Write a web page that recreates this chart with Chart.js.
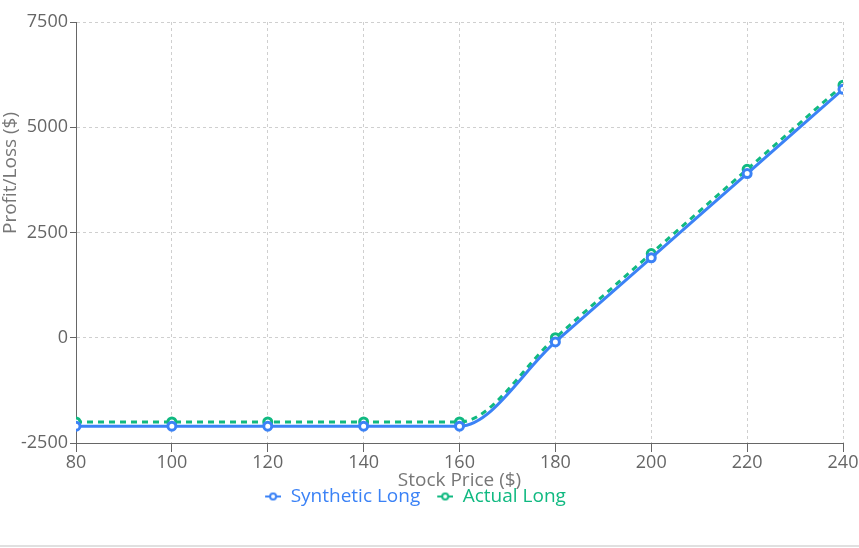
<!DOCTYPE html>
<html>
<head>
<meta charset="utf-8">
<script src="https://cdn.jsdelivr.net/npm/chart.js@4.4.0/dist/chart.umd.min.js"></script>
<style>
  html, body { margin: 0; padding: 0; background: #fff; }
  #wrap { width: 859px; height: 545px; border-bottom: 2px solid #e0e0e0; position: relative; }
</style>
</head>
<body>
<div id="wrap"><canvas id="chart"></canvas></div>
<script>
// ── Data ────────────────────────────────────────────────────────────────
const stockPrices   = [80, 100, 120, 140, 160, 180, 200, 220, 240];
const syntheticLong = [-2100, -2100, -2100, -2100, -2100, -100, 1900, 3900, 5900];
const actualLong    = [-2000, -2000, -2000, -2000, -2000, 0, 2000, 4000, 6000];

const BLUE  = '#3b82f6';
const GREEN = '#10b981';
const FONT  = "'Open Sans', 'Noto Sans', sans-serif";
const ICON_W = 30;

/** Legend icon: short line with an open circle, left part kept blank as spacing */
function legendIcon(color) {
  const c = document.createElement('canvas');
  c.width = ICON_W; c.height = 12;
  const ctx = c.getContext('2d');
  const x0 = ICON_W - 16;
  ctx.strokeStyle = color;
  ctx.lineWidth = 2;
  ctx.beginPath(); ctx.moveTo(x0, 6); ctx.lineTo(x0 + 16, 6); ctx.stroke();
  ctx.fillStyle = '#fff';
  ctx.beginPath(); ctx.arc(x0 + 8, 6, 3, 0, Math.PI * 2); ctx.fill(); ctx.stroke();
  return c;
}

// y title drawn at fixed spot (left side, a bit above plot centre)
const yTitlePlugin = {
  id: 'yTitle',
  afterLayout(chart) {
    // nudge the legend a little left of canvas centre
    chart.legend.left -= 13;
    chart.legend.right -= 13;
  },
  afterDraw(chart) {
    const ctx = chart.ctx;
    ctx.save();
    ctx.translate(11, 173);
    ctx.rotate(-Math.PI / 2);
    ctx.fillStyle = '#777';
    ctx.font = `19px ${FONT}`;
    ctx.textAlign = 'center';
    ctx.textBaseline = 'middle';
    ctx.fillText('Profit/Loss ($)', 0, 0);
    ctx.restore();
  }
};

const toXY = (arr) => arr.map((y, i) => ({ x: stockPrices[i], y }));

new Chart(document.getElementById('chart'), {
  type: 'line',
  data: {
    datasets: [
      {
        label: 'Synthetic Long',
        data: toXY(syntheticLong),
        borderColor: BLUE,
        backgroundColor: '#fff',
        borderWidth: 3,
        pointRadius: 4,
        pointBorderWidth: 3,
        pointBackgroundColor: '#fff',
        pointBorderColor: BLUE,
        cubicInterpolationMode: 'monotone',
        fill: false,
      },
      {
        label: 'Actual Long',
        data: toXY(actualLong),
        borderColor: GREEN,
        backgroundColor: '#fff',
        borderWidth: 3,
        borderDash: [6, 5],
        pointRadius: 4,
        pointBorderWidth: 3,
        pointBackgroundColor: '#fff',
        pointBorderColor: GREEN,
        cubicInterpolationMode: 'monotone',
        fill: false,
      },
    ],
  },
  options: {
    responsive: true,
    maintainAspectRatio: false,
    animation: false,
    layout: { padding: { left: 0, right: 16, top: 22, bottom: 29 } },
    plugins: {
      tooltip: { enabled: false },
      legend: {
        position: 'bottom',
        labels: {
          font: { family: FONT, size: 19 },
          padding: 3,
          usePointStyle: true,
          pointStyleWidth: ICON_W,
          boxHeight: 12,
          generateLabels: (chart) => chart.data.datasets.map((ds, i) => ({
            text: ds.label,
            fontColor: ds.borderColor,
            pointStyle: legendIcon(ds.borderColor),
            datasetIndex: i,
            lineWidth: 0,
            hidden: false,
          })),
        },
      },
    },
    scales: {
      x: {
        type: 'linear',
        min: 80,
        max: 240,
        ticks: { stepSize: 20, color: '#666', font: { family: FONT, size: 18 }, padding: 0, callback: (v) => String(v) },
        grid: { color: '#cfcfcf', tickColor: '#666', tickLength: 9 },
        border: { color: '#666', dash: [3, 3] },
        title: { display: true, text: 'Stock Price ($)', color: '#777', font: { family: FONT, size: 19 }, padding: { top: 0, bottom: -8 } },
        afterFit: (s) => { s.height = 41; },
      },
      y: {
        min: -2500,
        max: 7500,
        ticks: { stepSize: 2500, color: '#666', font: { family: FONT, size: 18 }, padding: 2, callback: (v) => String(v) },
        grid: { color: '#cfcfcf', tickColor: '#666', tickLength: 6 },
        border: { color: '#666', dash: [3, 3] },
        afterFit: (s) => { s.width = 76; },
      },
    },
  },
  plugins: [yTitlePlugin],
});
</script>
</body>
</html>
